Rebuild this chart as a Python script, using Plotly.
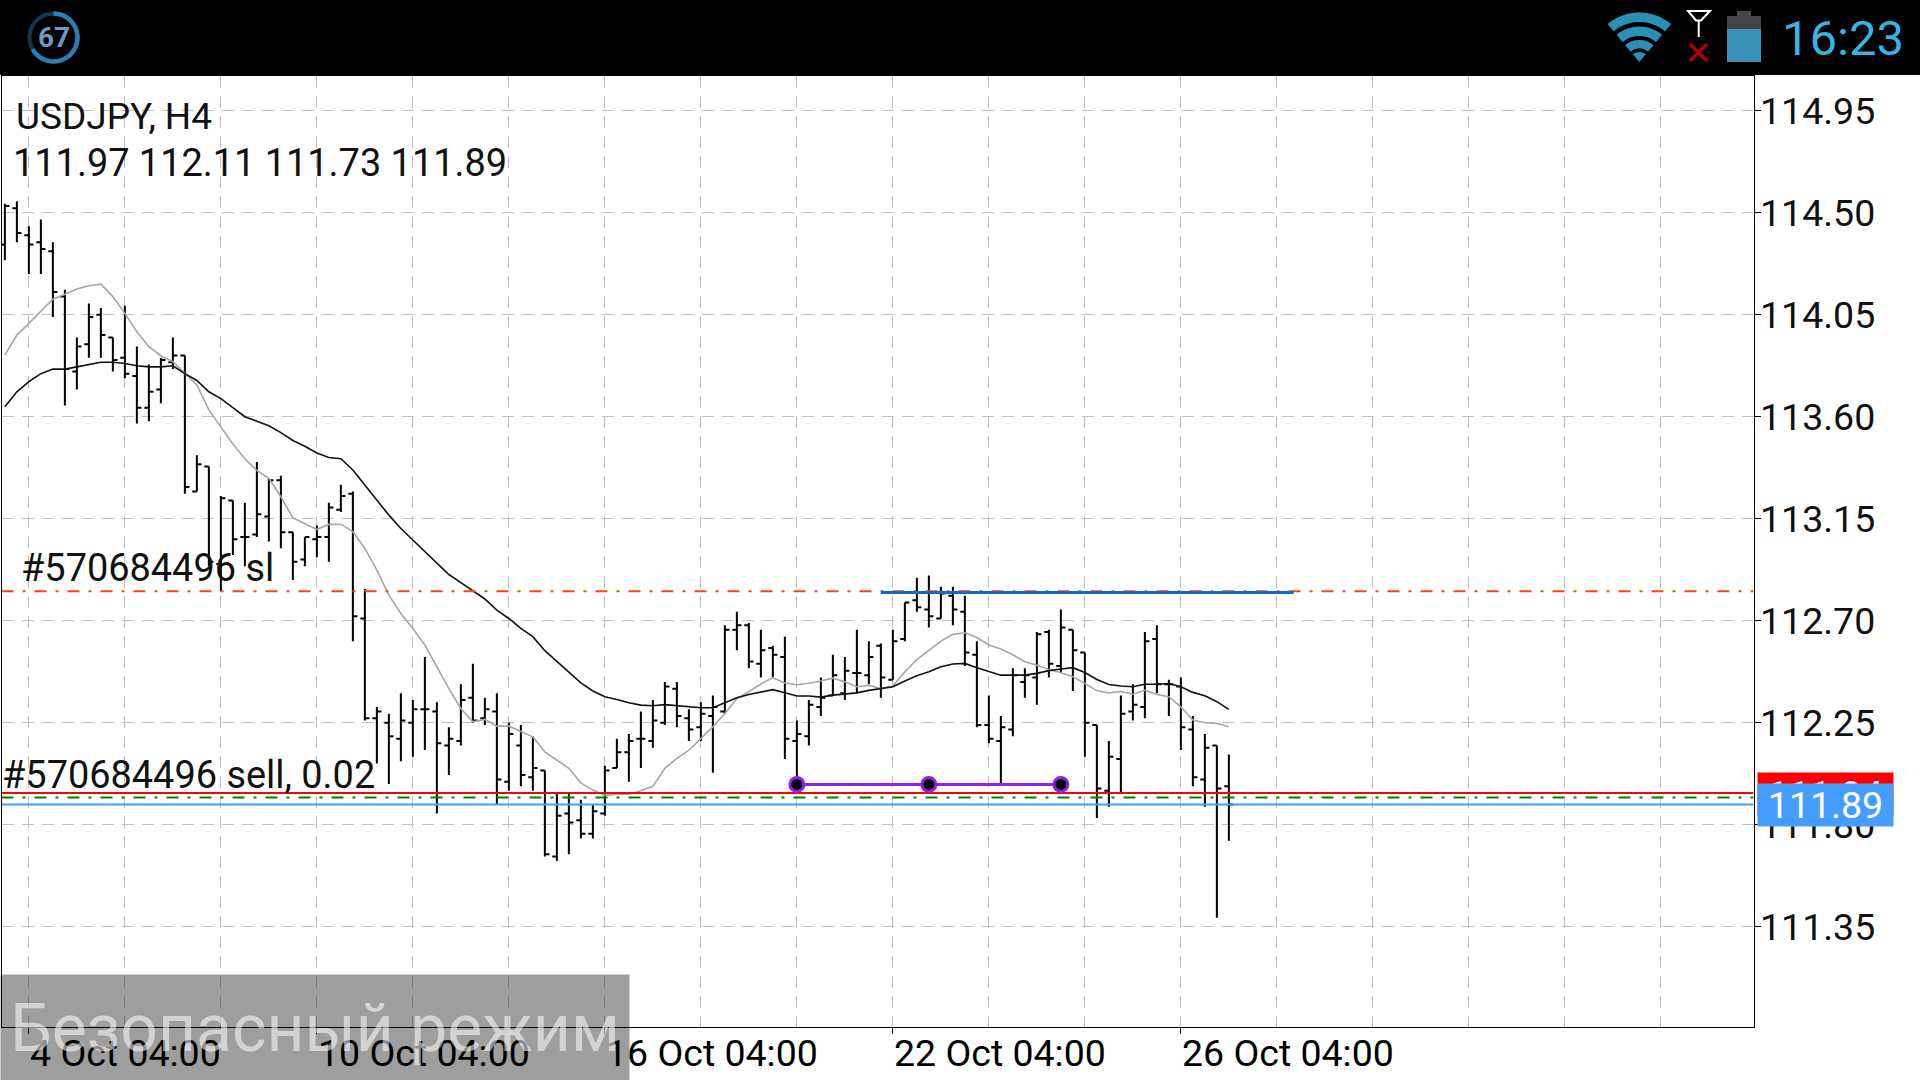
import math
import plotly.graph_objects as go

# H4 USDJPY bars, oldest first
open_ = [114.36,114.52,114.40,114.37,114.33,114.13,113.80,113.92,114.05,113.95,
         113.86,113.78,113.64,113.72,113.84,113.87,113.27,113.38,112.95,113.23,
         113.07,113.08,113.16,113.32,113.09,112.97,113.06,113.07,113.19,113.26,
         112.71,112.27,112.25,112.18,112.25,112.31,112.30,112.15,112.17,112.36,
         112.27,112.30,111.99,112.15,112.01,112.04,111.66,111.85,111.82,111.76,
         111.85,112.05,112.12,112.18,112.17,112.25,112.40,112.27,112.23,112.28,
         112.30,112.66,112.68,112.51,112.58,112.54,112.17,112.19,112.32,112.37,
         112.38,112.47,112.46,112.59,112.44,112.62,112.79,112.75,112.71,112.81,
         112.74,112.55,112.24,112.17,112.22,112.43,112.45,112.65,112.50,112.66,
         112.56,112.24,111.95,112.09,112.30,112.32,112.62,112.42,112.41,112.22,
         112.00,112.15,111.97]
high = [114.54,114.55,114.44,114.47,114.37,114.16,113.95,114.10,114.08,113.95,
        114.09,113.91,113.83,113.86,113.95,113.87,113.43,113.38,113.25,113.23,
        113.22,113.40,113.33,113.34,113.09,113.07,113.12,113.22,113.30,113.27,
        112.84,112.32,112.29,112.38,112.35,112.54,112.34,112.23,112.42,112.51,
        112.36,112.38,112.25,112.24,112.19,112.04,111.94,111.94,111.91,111.89,
        112.06,112.18,112.20,112.30,112.35,112.43,112.43,112.31,112.34,112.37,
        112.68,112.74,112.69,112.66,112.59,112.63,112.26,112.35,112.45,112.55,
        112.54,112.66,112.61,112.60,112.66,112.78,112.89,112.90,112.85,112.85,
        112.81,112.61,112.37,112.28,112.49,112.49,112.65,112.66,112.75,112.66,
        112.56,112.24,112.17,112.37,112.42,112.65,112.68,112.44,112.45,112.28,
        112.20,112.15,112.11]
low = [114.29,114.37,114.23,114.23,114.04,113.65,113.72,113.86,113.86,113.80,
       113.77,113.57,113.58,113.66,113.81,113.26,113.27,112.94,112.83,112.99,
       112.94,113.07,113.05,113.02,112.88,112.94,112.98,112.96,113.18,112.61,
       112.26,112.07,111.98,112.08,112.10,112.13,111.85,112.02,112.15,112.25,
       112.24,111.89,111.95,111.97,111.95,111.66,111.64,111.67,111.74,111.74,
       111.84,112.05,111.99,112.05,112.14,112.24,112.23,112.17,112.17,112.03,
       112.29,112.57,112.49,112.45,112.45,112.09,112.00,112.15,112.28,112.37,
       112.35,112.38,112.42,112.36,112.44,112.61,112.74,112.67,112.71,112.68,
       112.50,112.23,112.16,111.98,112.19,112.36,112.33,112.45,112.47,112.39,
       112.10,111.83,111.88,111.94,112.26,112.27,112.38,112.28,112.13,111.97,
       111.88,111.39,111.73]
close = [114.53,114.41,114.36,114.34,114.15,113.81,113.91,114.04,113.96,113.85,
         113.79,113.64,113.71,113.85,113.87,113.29,113.39,112.96,113.24,113.06,
         113.07,113.17,113.32,113.09,112.96,113.07,113.07,113.20,113.25,112.72,
         112.27,112.30,112.19,112.26,112.31,112.31,112.16,112.18,112.35,112.26,
         112.31,112.00,112.20,112.02,112.05,111.67,111.84,111.81,111.76,111.86,
         112.04,112.12,112.17,112.18,112.26,112.41,112.28,112.22,112.29,112.32,
         112.66,112.68,112.52,112.57,112.55,112.18,112.20,112.33,112.36,112.46,
         112.48,112.47,112.54,112.45,112.61,112.78,112.76,112.72,112.82,112.75,
         112.56,112.24,112.18,112.23,112.46,112.46,112.64,112.51,112.67,112.57,
         112.25,111.96,112.10,112.29,112.33,112.61,112.42,112.42,112.23,112.01,
         112.14,111.96,111.89]

# Slow moving average (black)
ma_slow = [113.644,113.71,113.755,113.79,113.81,113.81,113.82,113.83,113.84,113.84,
           113.835,113.825,113.82,113.82,113.825,113.79,113.76,113.71,113.68,113.64,
           113.60,113.58,113.56,113.53,113.495,113.47,113.44,113.42,113.415,113.365,
           113.30,113.23,113.166,113.107,113.056,113.004,112.953,112.904,112.868,112.83,
           112.796,112.747,112.71,112.666,112.63,112.568,112.52,112.472,112.426,112.39,
           112.365,112.353,112.338,112.328,112.325,112.33,112.325,112.32,112.316,112.316,
           112.338,112.36,112.375,112.384,112.396,112.382,112.368,112.368,112.363,112.372,
           112.378,112.382,112.393,112.40,112.409,112.434,112.457,112.475,112.497,112.509,
           112.512,112.493,112.475,112.46,112.46,112.46,112.468,112.48,112.487,112.493,
           112.472,112.441,112.419,112.412,112.409,112.42,112.42,112.423,112.409,112.384,
           112.369,112.343,112.309]
# Fast moving average (grey)
ma_fast = [113.872,113.96,114.012,114.063,114.118,114.14,114.163,114.178,114.185,114.13,
           114.056,113.975,113.909,113.869,113.843,113.791,113.74,113.63,113.556,113.48,
           113.414,113.363,113.328,113.247,113.154,113.13,113.103,113.125,113.126,113.093,
           113.019,112.923,112.813,112.732,112.666,112.593,112.497,112.401,112.313,112.254,
           112.265,112.235,112.235,112.21,112.188,112.122,112.085,112.049,111.985,111.953,
           111.93,111.935,111.935,111.95,111.97,112.049,112.093,112.129,112.181,112.232,
           112.291,112.357,112.387,112.421,112.449,112.426,112.418,112.424,112.434,112.447,
           112.431,112.409,112.415,112.401,112.412,112.475,112.529,112.571,112.61,112.64,
           112.647,112.626,112.593,112.575,112.55,112.519,112.504,112.485,112.471,112.453,
           112.424,112.391,112.382,112.388,112.376,112.393,112.375,112.365,112.32,112.262,
           112.25,112.247,112.232]

price_ticks = [114.95,114.50,114.05,113.60,113.15,112.70,112.25,111.80,111.35]
price_labels = ["114.95","114.50","114.05","113.60","113.15","112.70","112.25","111.80","111.35"]
grid_bars = [2,10,18,26,34,42,50,58,66,74,82,90,98,106,114,122,130,138]
date_bars = [2,26,50,74,98]
date_labels = ["4 Oct 04:00","10 Oct 04:00","16 Oct 04:00","22 Oct 04:00","26 Oct 04:00"]

stop_level = 112.83
ask_level = 111.94
order_level = 111.92
bid_level = 111.89
trend_bars = [73, 107.4]
trend_level = 112.825
path_bars = [66, 77, 88]
path_level = 111.978

W, H = 1920, 1080
PLOT_L, PLOT_R, PLOT_T, PLOT_B = 1.5, 1753.5, 76, 1027
X0, X_RANGE = -0.28, 145.72

FONT = "Roboto"
xs = list(range(len(close)))
x_span = [X0, X_RANGE]


def fx(px):
    return px / W


def fy(py):
    return 1 - py / H


def poly(points, closed=True):
    """SVG path in figure fractions from screen-pixel points."""
    body = "L".join(f"{fx(x):.5f},{fy(y):.5f}" for x, y in points)
    return "M" + body + ("Z" if closed else "")


def arc_points(cx, cy, r, start, end, n=24):
    out = []
    for k in range(n + 1):
        a = math.radians(start + (end - start) * k / n)
        out.append((cx + r * math.sin(a), cy - r * math.cos(a)))
    return out


def level(y, color, width=2, dash="solid", x=None):
    span = x_span if x is None else x
    return go.Scatter(x=span, y=[y, y], mode="lines", hoverinfo="skip",
                      line=dict(color=color, width=width, dash=dash))


DASHDOT = "12px,9px,3px,9px"

fig = go.Figure()
fig.add_trace(go.Ohlc(x=xs, open=open_, high=high, low=low, close=close, tickwidth=0.38,
                      increasing=dict(line=dict(color="#000000", width=2)),
                      decreasing=dict(line=dict(color="#000000", width=2)),
                      hoverinfo="skip"))
fig.add_trace(go.Scatter(x=xs, y=ma_fast, mode="lines", hoverinfo="skip",
                         line=dict(color="#a6a6a6", width=1.6)))
fig.add_trace(go.Scatter(x=xs, y=ma_slow, mode="lines", hoverinfo="skip",
                         line=dict(color="#111111", width=1.6)))
fig.add_trace(level(stop_level, "#ff4500", dash=DASHDOT))
fig.add_trace(level(ask_level, "#ff0000"))
fig.add_trace(level(order_level, "#008000", dash=DASHDOT))
fig.add_trace(level(bid_level, "#459dff"))
fig.add_trace(level(trend_level, "#0a6fc9", width=3, x=trend_bars))
fig.add_trace(go.Scatter(x=path_bars, y=[path_level] * 3, mode="lines+markers", hoverinfo="skip",
                         line=dict(color="#9020ee", width=3),
                         marker=dict(size=14, color="#000000", line=dict(color="#9020ee", width=3))))

# Device status bar drawn as shapes along the top edge
TEAL = "#2b8fb8"
shapes = [dict(type="rect", xref="paper", yref="paper", x0=0, x1=1, y0=fy(75), y1=1,
               fillcolor="#000000", line_width=0, layer="above")]


def add_path(points, fill=None, line=None, width=0, closed=True):
    shapes.append(dict(type="path", xref="paper", yref="paper", path=poly(points, closed),
                       fillcolor=fill if fill else "rgba(0,0,0,0)",
                       line=dict(color=line if line else "rgba(0,0,0,0)", width=width),
                       layer="above"))


def add_box(x0, y0, x1, y1, fill):
    shapes.append(dict(type="rect", xref="paper", yref="paper", x0=fx(x0), x1=fx(x1),
                       y0=fy(y1), y1=fy(y0), fillcolor=fill, line_width=0, layer="above"))


# Wi-Fi fan
apex = (1639.3, 62)
for r_out, r_in in [(49.5, 40), (35.5, 26), (22, 13.5)]:
    add_path(arc_points(*apex, r_out, -40, 40) + arc_points(*apex, r_in, 40, -40), fill=TEAL)
add_path([apex] + arc_points(*apex, 10, -40, 40, 6), fill=TEAL)
# Antenna with a red cross
add_path([(1688, 11), (1710, 11), (1701, 20.5), (1696, 20.5)], line="#ffffff", width=2)
add_path([(1698.7, 20), (1698.7, 37)], line="#ffffff", width=2, closed=False)
add_path([(1690, 44), (1707, 61)], line="#b00000", width=3.5, closed=False)
add_path([(1707, 44), (1690, 61)], line="#b00000", width=3.5, closed=False)
# Battery
add_box(1737, 11, 1751, 17, "#444444")
add_box(1727, 16, 1761, 29, "#444444")
add_box(1727, 29, 1761, 62, "#3a92ba")
# Progress ring around the "67" badge
add_path(arc_points(53.5, 37.5, 24, 0, 360, 48), line="#14364f", width=4, closed=False)
add_path(arc_points(53.5, 37.5, 24, 0, 241, 36), line="#2b7fb8", width=4.5, closed=False)


def note(px, py, text, size, color="#111111", anchor="left", **kw):
    return dict(xref="paper", yref="paper", x=fx(px), y=fy(py), xanchor=anchor, yanchor="middle",
                showarrow=False, text=text, borderpad=0,
                font=dict(family=FONT, size=size, color=color), **kw)


annotations = [
    note(15, 116.5, "USDJPY, H4", 37),
    note(11.5, 163, "111.97 112.11 111.73 111.89", 37.9),
    note(19.5, 568, "#570684496 sl", 37.9),
    note(0.5, 775, "#570684496 sell, 0.02", 37.9),
    note(53.5, 37.5, "67", 28, color="#6f9bb8"),
    note(1781, 39, "16:23", 49, color="#33b5e5"),
]
annotations[4]["xanchor"] = "center"
annotations[4]["font"]["weight"] = 700

# Date labels start at their tick, so they are placed as left-anchored text
for bar, label in zip(date_bars, date_labels):
    annotations.append(dict(xref="x", yref="paper", x=bar, y=fy(1052.5), xanchor="left", yanchor="middle",
                            showarrow=False, text=label, borderpad=0,
                            font=dict(family=FONT, size=37.5, color="#000000")))

# Price flags on the right axis; the bid flag sits over the ask flag
annotations.append(dict(xref="paper", yref="paper", x=fx(1757), y=fy(772), xanchor="left", yanchor="top",
                        showarrow=False, text=f"{ask_level:.2f}", width=135, height=42, bgcolor="#ff0000",
                        borderpad=0, font=dict(family=FONT, size=37.5, color="#ffffff")))
annotations.append(dict(xref="paper", yref="paper", x=fx(1757), y=fy(783), xanchor="left", yanchor="top",
                        showarrow=False, text=f"{bid_level:.2f}", width=135, height=42, bgcolor="#459dff",
                        borderpad=0, font=dict(family=FONT, size=37.5, color="#ffffff")))
# System watermark, over everything else in the lower-left corner
annotations.append(dict(xref="paper", yref="paper", x=0, y=fy(974), xanchor="left", yanchor="top",
                        showarrow=False, text="Безопасный режим", width=628, height=106,
                        bgcolor="rgba(0,0,0,0.38)", align="center", borderpad=0,
                        font=dict(family=FONT, size=66, color="rgba(255,255,255,0.55)")))

GRID = "#c0c0c0"
fig.update_layout(
    width=W, height=H, margin=dict(l=0, r=0, t=0, b=0), showlegend=False,
    paper_bgcolor="#ffffff", plot_bgcolor="#ffffff", hovermode=False,
    font=dict(family=FONT, color="#111111"),
    shapes=shapes, annotations=annotations,
    xaxis=dict(domain=[fx(PLOT_L), fx(PLOT_R)], range=[X0, X_RANGE], rangeslider=dict(visible=False),
               showline=True, mirror=True, linecolor="#000000", linewidth=1,
               tickmode="array", tickvals=date_bars, showticklabels=False,
               ticks="outside", ticklen=6, tickcolor="#000000", tickwidth=1,
               showgrid=True, gridcolor=GRID, griddash="12px,8px", gridwidth=1, zeroline=False,
               minor=dict(tickmode="array", tickvals=grid_bars, showgrid=True, gridcolor=GRID,
                          griddash="12px,8px", gridwidth=1, ticks="")),
    yaxis=dict(domain=[fy(PLOT_B), fy(PLOT_T)], range=[110.908, 115.103], side="right",
               showline=True, mirror=True, linecolor="#000000", linewidth=1,
               tickmode="array", tickvals=price_ticks, ticktext=price_labels,
               ticks="outside", ticklen=6, tickcolor="#000000", tickwidth=1, ticklabelstandoff=-8,
               tickfont=dict(family=FONT, size=37.5, color="#111111"),
               showgrid=True, gridcolor=GRID, griddash="12px,8px", gridwidth=1, zeroline=False),
)

fig.write_html("out.html")
